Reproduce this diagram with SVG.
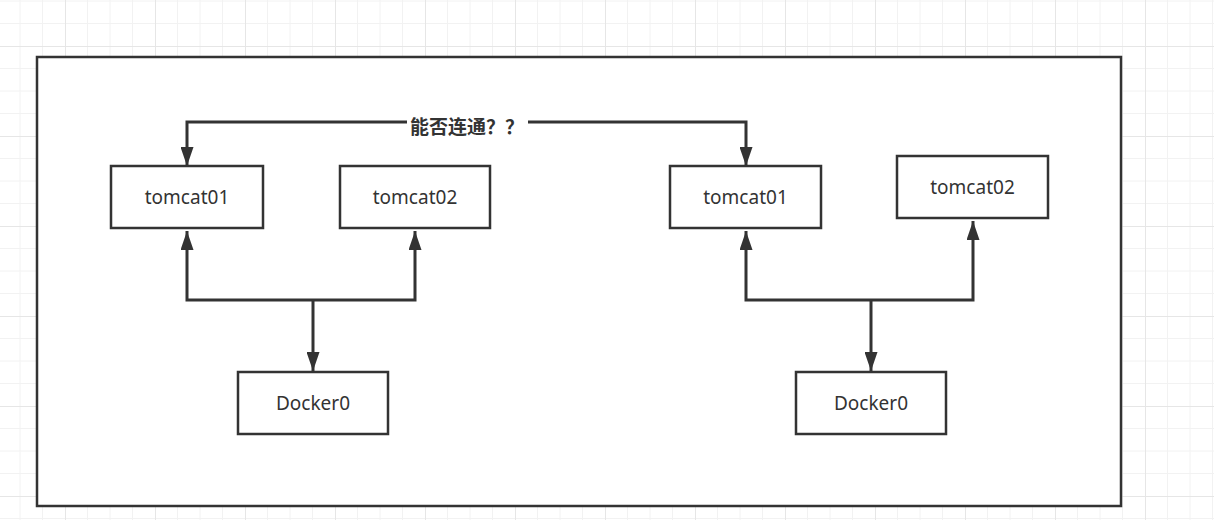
<svg xmlns="http://www.w3.org/2000/svg" width="1214" height="520" viewBox="0 0 1214 520">
<defs>
<pattern id="grid" patternUnits="userSpaceOnUse" x="-25" y="-44" width="90" height="90">
<path d="M22.5,0V90M45,0V90M67.5,0V90M0,22.5H90M0,45H90M0,67.5H90" stroke="#f2f2f2" stroke-width="1" fill="none"/>
<path d="M0.5,0V90M0,0.5H90" stroke="#e6e6e6" stroke-width="1" fill="none"/>
</pattern>
<marker id="arr" viewBox="0 0 19 13" refX="19" refY="6.5" markerWidth="19" markerHeight="13" markerUnits="userSpaceOnUse" orient="auto-start-reverse">
<path d="M0,0L19,6.5L0,13z" fill="#333"/>
</marker>
<style>
.box{fill:#fff;stroke:#333;stroke-width:2.5}
.lbl{font-family:"Noto Sans","Open Sans",sans-serif;font-size:19px;fill:#333;text-anchor:middle;dominant-baseline:central}
.ln{fill:none;stroke:#333;stroke-width:3}
.q{font-family:"Noto Sans CJK SC","Noto Sans",sans-serif;font-size:19px;font-weight:bold;fill:#333;text-anchor:middle;dominant-baseline:central}
</style>
</defs>
<rect width="1214" height="520" fill="#fff"/>
<rect width="1214" height="520" fill="url(#grid)"/>
<rect id="frame" x="37" y="57" width="1084" height="449" fill="#fff" stroke="#333" stroke-width="2.5"/>
<g id="connectors">
<path class="ln" d="M187,166V122H746V166" marker-start="url(#arr)" marker-end="url(#arr)"/>
<rect x="407" y="112" width="121" height="26" fill="#fff"/>
<text class="q" x="467" y="125">能否连通？？</text>
<path class="ln" d="M187,231V300H415V231" marker-start="url(#arr)" marker-end="url(#arr)"/>
<path class="ln" d="M313,300V371" marker-end="url(#arr)"/>
<path class="ln" d="M746,231V300H973V221" marker-start="url(#arr)" marker-end="url(#arr)"/>
<path class="ln" d="M871,300V371" marker-end="url(#arr)"/>
</g>
<g id="tomcat01-left"><rect class="box" x="111" y="166" width="152" height="62"/><text class="lbl" x="187" y="197">tomcat01</text></g>
<g id="tomcat02-left"><rect class="box" x="340" y="166" width="150" height="62"/><text class="lbl" x="415" y="197">tomcat02</text></g>
<g id="tomcat01-right"><rect class="box" x="670" y="166" width="151" height="62"/><text class="lbl" x="745.5" y="197">tomcat01</text></g>
<g id="tomcat02-right"><rect class="box" x="897" y="156" width="151" height="62"/><text class="lbl" x="972.5" y="187">tomcat02</text></g>
<g id="docker0-left"><rect class="box" x="238" y="372" width="150" height="62"/><text class="lbl" x="313" y="403">Docker0</text></g>
<g id="docker0-right"><rect class="box" x="796" y="372" width="150" height="62"/><text class="lbl" x="871" y="403">Docker0</text></g>
</svg>
